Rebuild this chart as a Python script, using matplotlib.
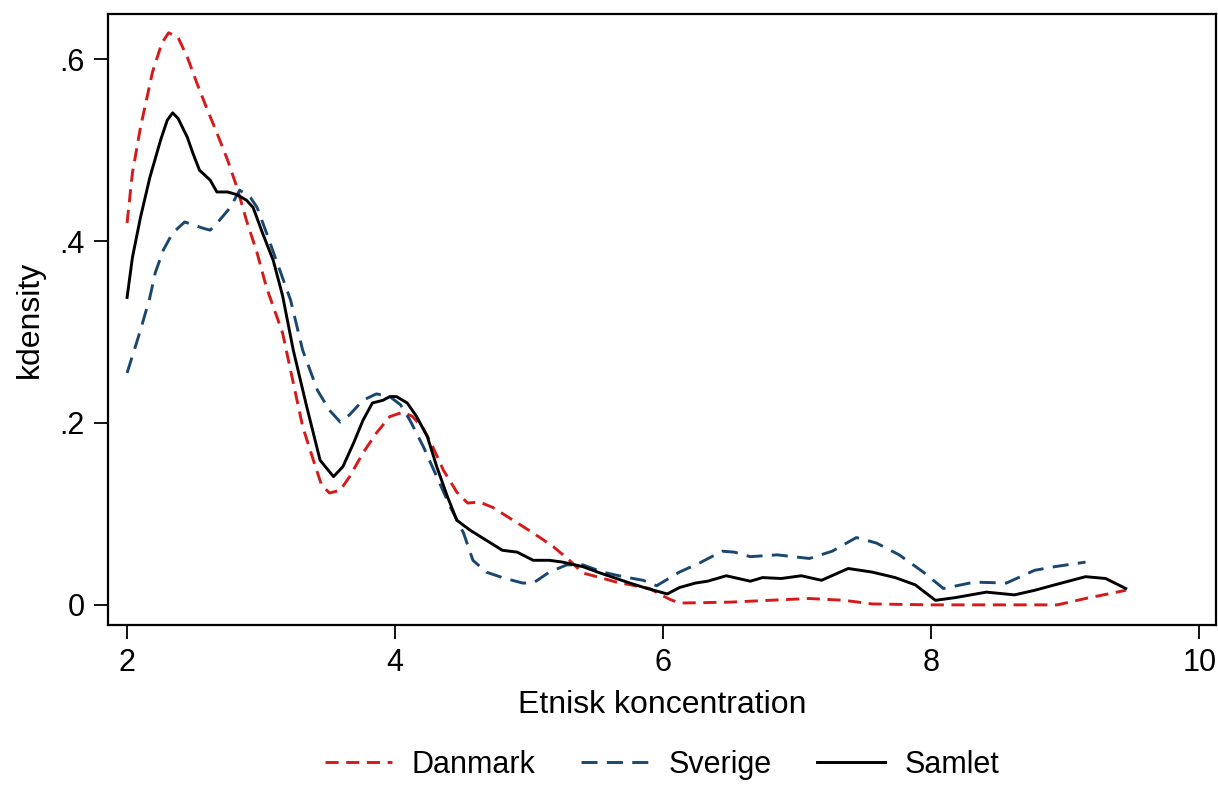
import matplotlib.pyplot as plt

plt.rcParams['font.family'] = ['Liberation Sans', 'DejaVu Sans']

# Danmark (red, dashed)
dk_x = [2.0, 2.04, 2.10, 2.19, 2.26, 2.31, 2.38, 2.45, 2.52, 2.60, 2.67, 2.75, 2.82, 2.89, 2.97,
        3.04, 3.16, 3.24, 3.31, 3.39, 3.45, 3.51, 3.59, 3.66, 3.76, 3.86, 3.96, 4.06, 4.13, 4.21,
        4.28, 4.36, 4.46, 4.54, 4.63, 4.73, 4.88, 5.03, 5.18, 5.30, 5.40, 5.53, 5.65, 5.90, 5.97,
        6.05, 6.12, 6.50, 6.79, 7.09, 7.35, 7.56, 8.0, 8.5, 8.94, 9.15, 9.45]
dk_y = [0.420, 0.475, 0.525, 0.586, 0.618, 0.629, 0.624, 0.602, 0.574, 0.544, 0.519, 0.489, 0.459,
        0.423, 0.387, 0.349, 0.299, 0.244, 0.196, 0.159, 0.132, 0.123, 0.126, 0.141, 0.167, 0.189,
        0.207, 0.212, 0.207, 0.194, 0.174, 0.148, 0.124, 0.112, 0.113, 0.107, 0.093, 0.079, 0.064,
        0.049, 0.035, 0.030, 0.025, 0.018, 0.012, 0.006, 0.002, 0.003, 0.005, 0.007, 0.005, 0.001,
        0.0, 0.0, 0.0, 0.007, 0.016]

# Sverige (navy, dashed)
se_x = [2.0, 2.10, 2.17, 2.21, 2.27, 2.34, 2.43, 2.49, 2.57, 2.62, 2.69, 2.77, 2.84, 2.92, 2.97,
        3.04, 3.12, 3.22, 3.31, 3.42, 3.51, 3.59, 3.66, 3.76, 3.86, 3.96, 4.04, 4.11, 4.21, 4.31,
        4.41, 4.51, 4.58, 4.68, 4.80, 4.95, 5.03, 5.15, 5.28, 5.40, 5.55, 5.70, 5.85, 5.95, 6.12,
        6.27, 6.44, 6.53, 6.65, 6.85, 7.09, 7.26, 7.44, 7.59, 7.76, 7.94, 8.09, 8.32, 8.56, 8.77,
        8.92, 9.15]
se_y = [0.255, 0.302, 0.338, 0.365, 0.390, 0.409, 0.421, 0.418, 0.414, 0.412, 0.423, 0.437, 0.456,
        0.448, 0.437, 0.409, 0.376, 0.335, 0.280, 0.236, 0.214, 0.201, 0.209, 0.225, 0.232, 0.229,
        0.220, 0.203, 0.174, 0.141, 0.108, 0.079, 0.049, 0.036, 0.030, 0.024, 0.024, 0.036, 0.044,
        0.044, 0.036, 0.031, 0.027, 0.021, 0.036, 0.046, 0.059, 0.058, 0.053, 0.055, 0.051, 0.059,
        0.074, 0.068, 0.055, 0.036, 0.018, 0.025, 0.024, 0.038, 0.042, 0.047]

# Samlet (black, solid)
all_x = [2.0, 2.04, 2.10, 2.17, 2.25, 2.30, 2.34, 2.38, 2.45, 2.49, 2.54, 2.62, 2.67, 2.75, 2.82,
         2.89, 2.94, 3.01, 3.09, 3.16, 3.24, 3.34, 3.44, 3.54, 3.61, 3.69, 3.76, 3.83, 3.91, 3.96,
         4.01, 4.09, 4.16, 4.24, 4.31, 4.39, 4.46, 4.56, 4.68, 4.80, 4.91, 5.03, 5.15, 5.25, 5.40,
         5.53, 5.75, 5.88, 6.03, 6.12, 6.24, 6.33, 6.47, 6.65, 6.74, 6.88, 7.03, 7.18, 7.38, 7.56,
         7.73, 7.88, 8.03, 8.18, 8.41, 8.62, 8.77, 8.92, 9.15, 9.30, 9.45]
all_y = [0.338, 0.382, 0.426, 0.470, 0.511, 0.533, 0.541, 0.535, 0.514, 0.497, 0.478, 0.467, 0.454,
         0.454, 0.451, 0.445, 0.437, 0.409, 0.379, 0.340, 0.280, 0.218, 0.159, 0.141, 0.152, 0.178,
         0.203, 0.222, 0.225, 0.229, 0.229, 0.222, 0.207, 0.185, 0.152, 0.119, 0.093, 0.082, 0.071,
         0.060, 0.058, 0.049, 0.049, 0.047, 0.042, 0.035, 0.024, 0.018, 0.012, 0.019, 0.024, 0.026,
         0.032, 0.026, 0.030, 0.029, 0.032, 0.027, 0.040, 0.036, 0.030, 0.022, 0.005, 0.008, 0.014,
         0.011, 0.016, 0.022, 0.031, 0.029, 0.018]

xticks = [2, 4, 6, 8, 10]
yticks = [0, 0.2, 0.4, 0.6]
ytick_labels = ['0', '.2', '.4', '.6']

fig = plt.figure(figsize=(12.18, 7.87), dpi=100)
ax = fig.add_axes([0.0887, 0.206, 0.9093, 0.776])

ax.plot(dk_x, dk_y, color='#d61a1a', lw=2.1, dashes=(4.5, 2.6), label='Danmark')
ax.plot(se_x, se_y, color='#1a476f', lw=2.1, dashes=(5.5, 3.2), label='Sverige')
ax.plot(all_x, all_y, color='black', lw=2.1, label='Samlet')

ax.set_xlim(1.858, 10.12)
ax.set_ylim(-0.022, 0.6495)
ax.set_xticks(xticks)
ax.set_yticks(yticks)
ax.set_yticklabels(ytick_labels)
ax.tick_params(direction='out', length=10, width=1.3, labelsize=22, pad=7)
for s in ax.spines.values():
    s.set_linewidth(1.6)

ax.set_xlabel('Etnisk koncentration', fontsize=23, labelpad=8)
ax.set_ylabel('kdensity', fontsize=23, labelpad=10)

fig.legend(loc='lower center', bbox_to_anchor=(0.5435, -0.026), ncol=3, frameon=False,
           fontsize=22, handlelength=2.2, columnspacing=1.5, handletextpad=0.65)

fig.savefig('out.png', dpi=100)
